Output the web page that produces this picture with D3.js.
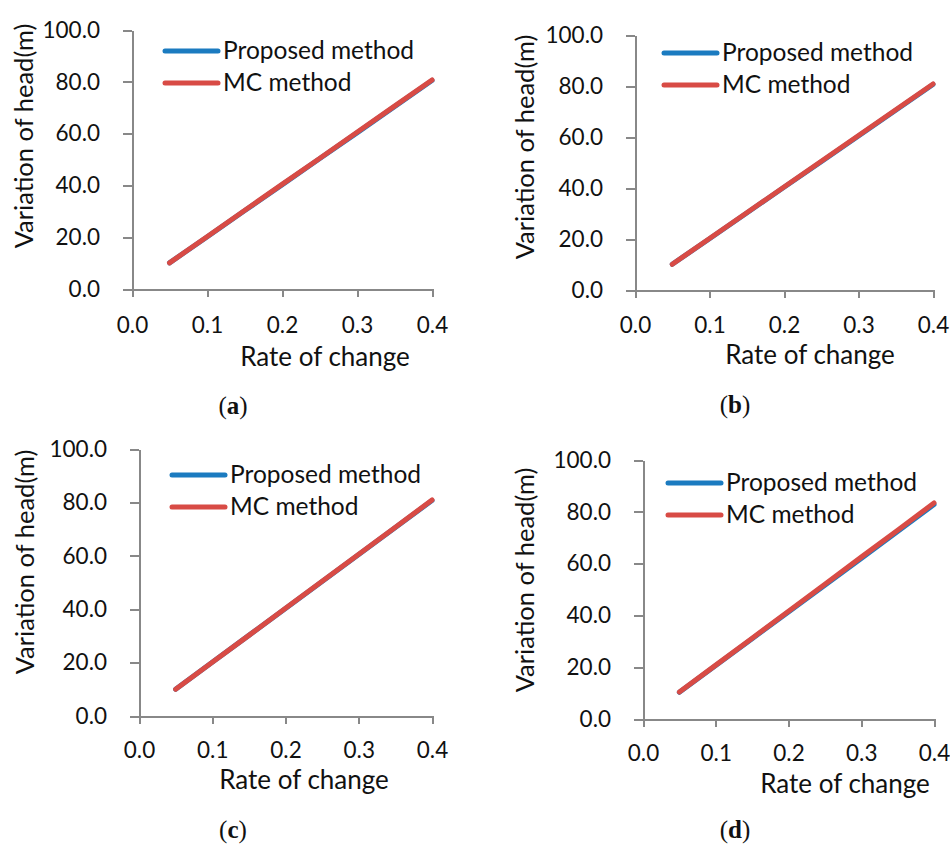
<!DOCTYPE html>
<html>
<head>
<meta charset="utf-8">
<script src="https://d3js.org/d3.v7.min.js"></script>
<style>
  body, html { margin: 0; background: #fff; }
  svg { display: block; }
  text { font-family: Lato, 'Open Sans', sans-serif; fill: #111; }
  .axis path, .axis line { stroke: #888; stroke-width: 2px; shape-rendering: crispEdges; }
  .axis text { font-size: 22.5px; fill: #111; font-family: Lato, sans-serif; }
  .caption { font-family: 'Liberation Serif', serif; font-size: 25px; }
</style>
</head>
<body>
<div id="chart"></div>
<script>
// rate of change (x) shared by all panels
var rates = [0.05, 0.10, 0.15, 0.20, 0.25, 0.30, 0.35, 0.40];
var xTicks = [0.0, 0.1, 0.2, 0.3, 0.4];
var yTicks = [0, 20, 40, 60, 80, 100];
var seriesNames = ["Proposed method", "MC method"];
var seriesColors = ["#1b7bc0", "#d84b45"];

// variation of head (m)
var proposedA = [10.1, 20.1, 30.2, 40.2, 50.3, 60.3, 70.4, 80.5];
var mcA       = [10.1, 20.2, 30.3, 40.4, 50.4, 60.5, 70.6, 80.7];
var proposedB = [10.1, 20.1, 30.2, 40.3, 50.3, 60.4, 70.5, 80.6];
var mcB       = [10.1, 20.2, 30.3, 40.4, 50.5, 60.6, 70.7, 80.8];
var proposedC = [10.0, 20.1, 30.2, 40.3, 50.4, 60.5, 70.6, 80.7];
var mcC       = [10.0, 20.1, 30.2, 40.4, 50.5, 60.6, 70.7, 80.9];
var proposedD = [10.3, 20.7, 31.0, 41.3, 51.6, 62.0, 72.4, 82.8];
var mcD       = [10.4, 20.8, 31.2, 41.6, 52.0, 62.5, 72.9, 83.4];

var panels = [
  {id: "a", proposed: proposedA, mc: mcA, x0: 132, x1: 432, y0: 30, y1: 289, pad: 20,
   ytX: 33, ytY: 136, xtX: 325, xtY: 366, legX: 165, legY: 51, capX: 233, capY: 414},
  {id: "b", proposed: proposedB, mc: mcB, x0: 635, x1: 933, y0: 35, y1: 290, pad: 19,
   ytX: 534, ytY: 147, xtX: 810, xtY: 364, legX: 664, legY: 53, capX: 735, capY: 413},
  {id: "c", proposed: proposedC, mc: mcC, x0: 139, x1: 432, y0: 449, y1: 716, pad: 18,
   ytX: 34, ytY: 562, xtX: 304, xtY: 789, legX: 172, legY: 475, capX: 233, capY: 838},
  {id: "d", proposed: proposedD, mc: mcD, x0: 643, x1: 934, y0: 460, y1: 719, pad: 18,
   ytX: 534, ytY: 580, xtX: 845, xtY: 793, legX: 668, legY: 483, capX: 735, capY: 838}
];

var svg = d3.select("#chart").append("svg")
  .attr("width", 950)
  .attr("height", 849);

panels.forEach(function(p) {
  var x = d3.scaleLinear().domain([0, 0.4]).range([p.x0, p.x1]);
  var y = d3.scaleLinear().domain([0, 100]).range([p.y1, p.y0]);
  var g = svg.append("g");

  g.append("g")
    .attr("class", "axis")
    .attr("transform", "translate(0," + p.y1 + ")")
    .call(d3.axisBottom(x).tickValues(xTicks).tickSize(8).tickPadding(p.pad)
      .tickSizeOuter(0).tickFormat(d3.format(".1f")));

  g.append("g")
    .attr("class", "axis")
    .attr("transform", "translate(" + p.x0 + ",0)")
    .call(d3.axisLeft(y).tickValues(yTicks).tickSize(9).tickPadding(23)
      .tickSizeOuter(0).tickFormat(d3.format(".1f")));

  var line = d3.line()
    .x(function(d, i) { return x(rates[i]); })
    .y(function(d) { return y(d); });

  [p.proposed, p.mc].forEach(function(vals, k) {
    g.append("path")
      .datum(vals)
      .attr("d", line)
      .attr("fill", "none")
      .attr("stroke", seriesColors[k])
      .attr("stroke-width", 5)
      .attr("stroke-linecap", "round");
  });

  // legend
  seriesNames.forEach(function(name, k) {
    var ly = p.legY + k * 32;
    g.append("line")
      .attr("x1", p.legX).attr("x2", p.legX + 53)
      .attr("y1", ly).attr("y2", ly)
      .attr("stroke", seriesColors[k])
      .attr("stroke-width", 5)
      .attr("stroke-linecap", "round");
    g.append("text")
      .attr("x", p.legX + 58)
      .attr("y", ly + 8)
      .style("font-size", "24.5px")
      .text(name);
  });

  g.append("text")
    .attr("transform", "translate(" + p.ytX + "," + p.ytY + ") rotate(-90)")
    .attr("text-anchor", "middle")
    .style("font-size", "25.5px")
    .text("Variation of head(m)");

  g.append("text")
    .attr("x", p.xtX)
    .attr("y", p.xtY)
    .attr("text-anchor", "middle")
    .style("font-size", "26px")
    .text("Rate of change");

  var cap = g.append("text")
    .attr("class", "caption")
    .attr("x", p.capX)
    .attr("y", p.capY)
    .attr("text-anchor", "middle");
  cap.append("tspan").text("(");
  cap.append("tspan").style("font-weight", "bold").text(p.id);
  cap.append("tspan").text(")");
});
</script>
</body>
</html>
